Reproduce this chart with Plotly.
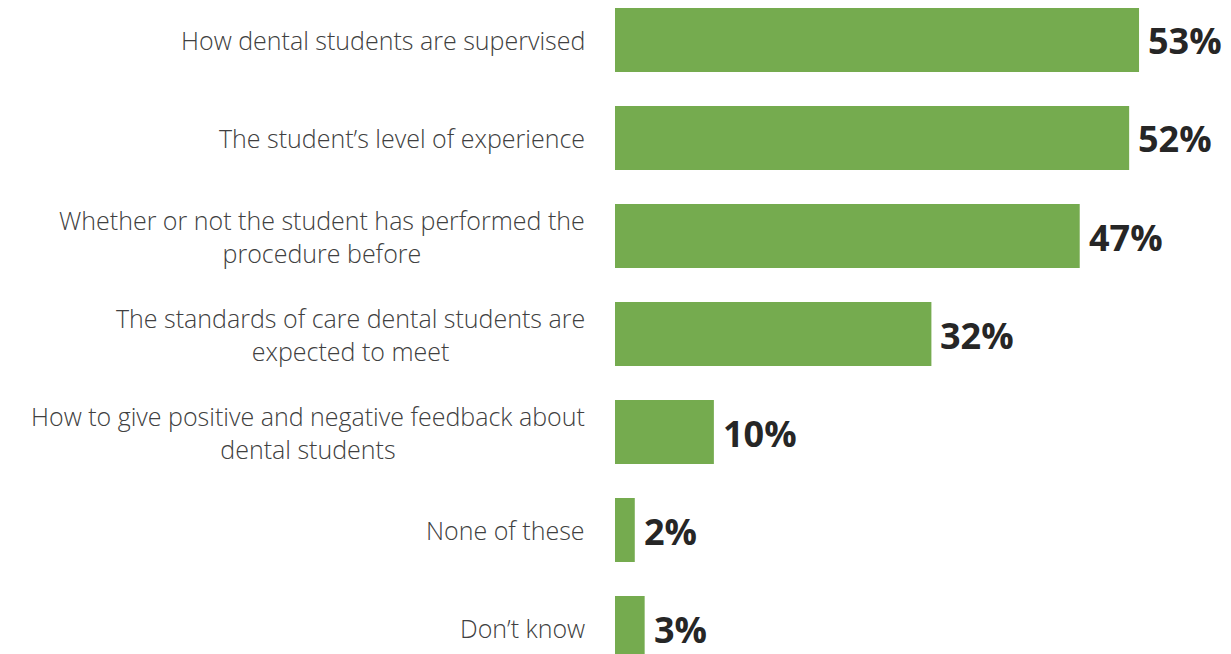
import plotly.graph_objects as go

# Survey responses
categories = [
    "How dental students are supervised",
    "The student\u2019s level of experience",
    "Whether or not the student has performed the<br>procedure before",
    "The standards of care dental students are<br>expected to meet",
    "How to give positive and negative feedback about<br>dental students",
    "None of these",
    "Don\u2019t know",
]
values = [53, 52, 47, 32, 10, 2, 3]
value_labels = ["53%", "52%", "47%", "32%", "10%", "2%", "3%"]

BAR_COLOR = "#75AB4F"
LABEL_COLOR = "#404040"
VALUE_COLOR = "#262626"

positions = list(range(len(categories)))

fig = go.Figure()
fig.add_trace(go.Bar(
    x=values,
    y=positions,
    orientation="h",
    marker=dict(color=BAR_COLOR, line=dict(width=0)),
    width=0.653,
    hoverinfo="skip",
))

annotations = []
for pos, cat, val, lab in zip(positions, categories, values, value_labels):
    # category label: right-aligned block, wrapped lines centred on each other
    annotations.append(dict(
        x=0, y=pos, xref="x", yref="y",
        text=cat, showarrow=False,
        xanchor="right", yanchor="middle", align="center",
        xshift=-28,
        font=dict(family="Open Sans", size=25, color=LABEL_COLOR, weight=300),
    ))
    # value label just past the end of the bar
    annotations.append(dict(
        x=val, y=pos, xref="x", yref="y",
        text=lab, showarrow=False,
        xanchor="left", yanchor="middle",
        xshift=7, yshift=-1,
        font=dict(family="Open Sans", size=36, color=VALUE_COLOR, weight=700),
    ))

fig.update_layout(
    width=1231, height=654,
    margin=dict(l=615, r=0, t=0, b=0),
    paper_bgcolor="white", plot_bgcolor="white",
    showlegend=False,
    xaxis=dict(range=[0, 62.3], visible=False, fixedrange=True),
    yaxis=dict(range=[6.265, -0.408], visible=False, fixedrange=True),
    annotations=annotations,
)

fig.write_html("out.html")
